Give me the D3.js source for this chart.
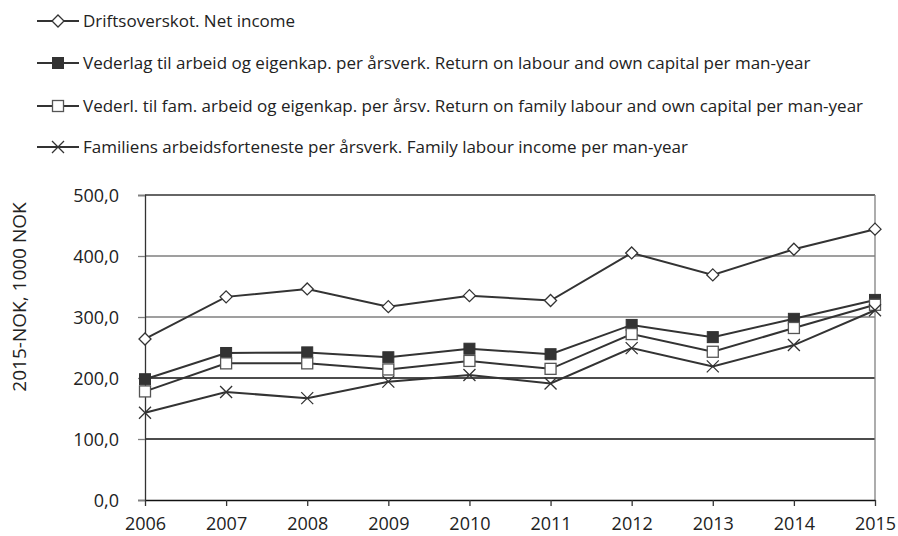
<!DOCTYPE html>
<html><head><meta charset="utf-8">
<script src="https://cdn.jsdelivr.net/npm/d3@7"></script>
<style>body{margin:0;background:#fff}svg{display:block}text{font-family:"Open Sans",sans-serif;fill:#222}</style>
</head><body><svg id="c" width="898" height="536"></svg>
<script>
const years = [2006,2007,2008,2009,2010,2011,2012,2013,2014,2015];
const netIncome = [264,333,346,317,335,327,405,369,411,444];
const returnLabour = [198,241,242,234,248,239,287,267,297,328];
const returnFamily = [178,224,224,214,228,215,272,243,282,320];
const familyIncome = [143,177,167,194,205,191,249,219,254,311];
const yTicks = [0,100,200,300,400,500];
const seriesNames = [
 "Driftsoverskot. Net income",
 "Vederlag til arbeid og eigenkap. per årsverk. Return on labour and own capital per man-year",
 "Vederl. til fam. arbeid og eigenkap. per årsv. Return on family labour and own capital per man-year",
 "Familiens arbeidsforteneste per årsverk. Family labour income per man-year"
];
const yTitle = "2015-NOK, 1000 NOK";

const series = [
 {name:seriesNames[0], values:netIncome, marker:"diamond"},
 {name:seriesNames[1], values:returnLabour, marker:"filled"},
 {name:seriesNames[2], values:returnFamily, marker:"open"},
 {name:seriesNames[3], values:familyIncome, marker:"x"}
];

const svg = d3.select("#c");
const x = d3.scalePoint().domain(years).range([145,875]);
const y = d3.scaleLinear().domain([0,500]).range([500,195]);
const fmt = v => d3.format(".1f")(v).replace(".",",");

// gridlines
const gridColor = v => (v===300||v===400) ? "#7f7f7f" : (v===500 ? "#333" : "#111");
svg.append("g").selectAll("line").data(yTicks.filter(v=>v>0)).join("line")
 .attr("x1",145).attr("x2",875).attr("y1",d=>y(d)).attr("y2",d=>y(d))
 .attr("stroke",gridColor).attr("stroke-width",1.3);
// right border
svg.append("line").attr("x1",875).attr("x2",875).attr("y1",y(500)).attr("y2",y(0)).attr("stroke","#808080").attr("stroke-width",1.3);

// y axis
const ya = svg.append("g").attr("transform","translate(145,0)")
 .call(d3.axisLeft(y).tickValues(yTicks).tickFormat(fmt).tickSize(7).tickPadding(19));
ya.select(".domain").attr("stroke","#333").attr("stroke-width",1.3);
ya.selectAll(".tick line").attr("stroke","#808080").attr("stroke-width",1.3);
ya.selectAll("text").style("font-size","18px").attr("fill","#222").attr("dy","0.35em");

// x axis
const xa = svg.append("g").attr("transform","translate(0,500)")
 .call(d3.axisBottom(x).tickSize(6).tickPadding(11).tickSizeOuter(0));
xa.select(".domain").attr("stroke","#111").attr("stroke-width",1.3);
xa.selectAll(".tick line").attr("stroke","#333").attr("stroke-width",1.3);
xa.selectAll("text").style("font-size","18px").attr("fill","#222");

// y title
svg.append("text").attr("transform","translate(26,297) rotate(-90)")
 .attr("text-anchor","middle").style("font-size","19px").text(yTitle);

const line = d3.line().x((d,i)=>x(years[i])).y(d=>y(d));

function drawMarker(g, type){
  if(type==="diamond"){
    g.append("path").attr("d","M0,-6L6,0L0,6L-6,0Z").attr("fill","#fff").attr("stroke","#333").attr("stroke-width",1.3);
  } else if(type==="filled"){
    g.append("rect").attr("x",-5.5).attr("y",-5.5).attr("width",11).attr("height",11).attr("fill","#333").attr("stroke","#333").attr("stroke-width",1);
  } else if(type==="open"){
    g.append("rect").attr("x",-5.5).attr("y",-5.5).attr("width",11).attr("height",11).attr("fill","#fff").attr("stroke","#555").attr("stroke-width",1.3);
  } else {
    g.append("path").attr("d","M-6,-6L6,6M-6,6L6,-6").attr("stroke","#333").attr("stroke-width",1.3).attr("fill","none");
  }
}

series.forEach(s=>{
  svg.append("path").datum(s.values).attr("d",line).attr("fill","none").attr("stroke","#333").attr("stroke-width",2);
  s.values.forEach((v,i)=>{
    const g = svg.append("g").attr("transform",`translate(${x(years[i])},${y(v)})`);
    drawMarker(g, s.marker);
  });
});

// legend
const legY = [21,63,106,147];
series.forEach((s,i)=>{
  const g = svg.append("g").attr("transform",`translate(0,${legY[i]})`);
  g.append("line").attr("x1",37).attr("x2",79).attr("y1",0).attr("y2",0).attr("stroke","#333").attr("stroke-width",2);
  const m = g.append("g").attr("transform","translate(58,0)");
  drawMarker(m, s.marker);
  g.append("text").attr("x",83).attr("y",0).attr("dy","0.35em").style("font-size","17px").text(s.name);
});
</script></body></html>
